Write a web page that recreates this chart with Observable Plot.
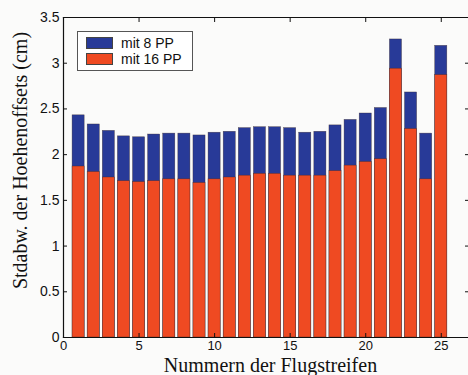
<!DOCTYPE html>
<html>
<head>
<meta charset="utf-8">
<script src="https://cdn.jsdelivr.net/npm/d3@7"></script>
<script src="https://cdn.jsdelivr.net/npm/@observablehq/plot@0.6"></script>
<style>
  html, body { margin: 0; padding: 0; background: #fbfbfa; overflow: hidden; }
  #wrap { position: relative; width: 468px; height: 375px; overflow: hidden; }
  #legend {
    position: absolute; left: 77px; top: 31px; width: 116px; height: 40px;
    border: 1px solid #555; background: #fff; box-sizing: border-box;
    font-family: "Liberation Sans", Arial, sans-serif; font-size: 14px; color: #111;
  }
  .item { position: absolute; left: 8px; height: 13px; display: flex; align-items: center; }
  .sw { width: 27px; height: 12px; margin-right: 8px; box-sizing: border-box; border: 0.5px solid #444; }
</style>
</head>
<body>
<div id="wrap"></div>
<script>
// Flight strip numbers
const strips = [1,2,3,4,5,6,7,8,9,10,11,12,13,14,15,16,17,18,19,20,21,22,23,24,25];
// Std. dev. of height offsets (cm) with 8 PP
const pp8 = [2.43,2.33,2.26,2.20,2.19,2.22,2.23,2.23,2.21,2.24,2.25,2.29,2.30,2.30,2.29,2.24,2.25,2.32,2.38,2.45,2.51,3.26,2.68,2.23,3.19];
// Std. dev. of height offsets (cm) with 16 PP
const pp16 = [1.87,1.81,1.75,1.71,1.70,1.71,1.73,1.73,1.69,1.73,1.75,1.77,1.79,1.79,1.77,1.77,1.77,1.82,1.88,1.92,1.95,2.94,2.28,1.73,2.87];
const seriesNames = ["mit 8 PP", "mit 16 PP"];
const seriesColors = ["#283a98", "#ef4a22"];
const xTicks = [0,5,10,15,20,25];
const yTicks = [0,0.5,1,1.5,2,2.5,3,3.5];
const xDomain = [0, 27];
const yDomain = [0, 3.5];
const xLabel = "Nummern der Flugstreifen";
const yLabel = "Stdabw. der Hoehenoffsets (cm)";
const barWidth = 0.8;

const data8 = strips.map((s, i) => ({strip: s, value: pp8[i]}));
const data16 = strips.map((s, i) => ({strip: s, value: pp16[i]}));

const sans = "'Liberation Sans', Arial, sans-serif";
const serif = "'Liberation Serif', 'Times New Roman', serif";

const barOpts = (fill) => ({
  x1: d => d.strip - barWidth / 2,
  x2: d => d.strip + barWidth / 2,
  y: "value",
  fill,
  stroke: "#3a2a2a",
  strokeWidth: 0.5,
  strokeOpacity: 0.7
});

const chart = Plot.plot({
  width: 468,
  height: 375,
  marginLeft: 63,
  marginRight: -3,
  marginTop: 17,
  marginBottom: 38,
  style: {background: "#fbfbfa", fontFamily: sans, overflow: "hidden"},
  x: {domain: xDomain, axis: null},
  y: {domain: yDomain, axis: null},
  marks: [
    Plot.rectY(data8, barOpts(seriesColors[0])),
    Plot.rectY(data16, barOpts(seriesColors[1])),
    Plot.frame({anchor: "left", stroke: "#111", strokeWidth: 1.2}),
    Plot.frame({anchor: "bottom", stroke: "#111", strokeWidth: 1.2}),
    Plot.frame({anchor: "top", stroke: "#111", strokeWidth: 1.2}),
    // tick labels
    Plot.axisX({ticks: xTicks, tickSize: 0, tickPadding: 3, fontSize: 13, fontFamily: sans, fill: "#111", label: null, tickFormat: d => String(d)}),
    Plot.axisY({ticks: yTicks, tickSize: 0, tickPadding: 4, fontSize: 14, fontFamily: sans, fill: "#111", label: null, tickFormat: d => String(d)}),
    // inward ticks on all four sides
    Plot.axisX({ticks: xTicks, anchor: "bottom", tickSize: -4, text: null, label: null, stroke: "#111"}),
    Plot.axisX({ticks: xTicks, anchor: "top", tickSize: -4, text: null, label: null, stroke: "#111"}),
    Plot.axisY({ticks: yTicks, anchor: "left", tickSize: -4, text: null, label: null, stroke: "#111"}),
    Plot.axisY({ticks: yTicks, anchor: "right", tickSize: -7, text: null, label: null, stroke: "#111"}),
    // axis titles
    Plot.text([xLabel], {text: d => d, frameAnchor: "bottom", dy: 20, dx: 3, lineAnchor: "top", textAnchor: "middle", fontSize: 20, fontFamily: serif, fill: "#111"}),
    Plot.text([yLabel], {text: d => d, frameAnchor: "left", textAnchor: "middle", lineAnchor: "middle", dx: -43, dy: -17, rotate: -90, fontSize: 20, fontFamily: serif, fill: "#111"})
  ]
});

const wrap = document.getElementById("wrap");
wrap.appendChild(chart);

const legend = document.createElement("div");
legend.id = "legend";
seriesNames.forEach((name, i) => {
  const item = document.createElement("div");
  item.className = "item";
  item.style.top = (4 + i * 16) + "px";
  const sw = document.createElement("span");
  sw.className = "sw";
  sw.style.background = seriesColors[i];
  const t = document.createElement("span");
  t.textContent = name;
  item.appendChild(sw);
  item.appendChild(t);
  legend.appendChild(item);
});
wrap.appendChild(legend);
</script>
</body>
</html>
